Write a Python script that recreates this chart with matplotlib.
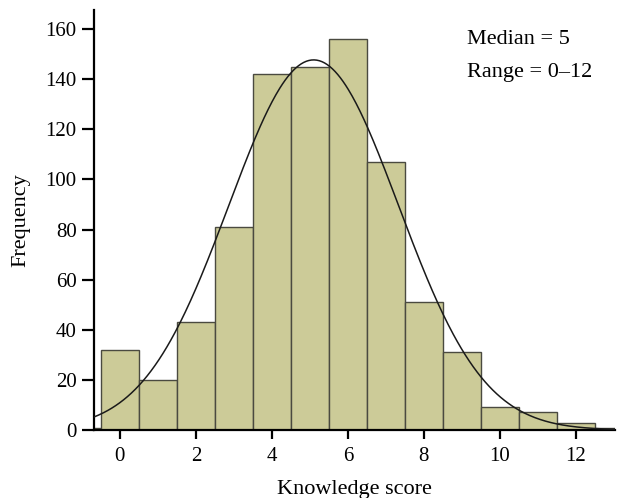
import numpy as np
import matplotlib
matplotlib.use("Agg")
import matplotlib.pyplot as plt

plt.rcParams['font.family'] = ['Liberation Serif', 'DejaVu Serif']

scores = [-1, 0, 1, 2, 3, 4, 5, 6, 7, 8, 9, 10, 11, 12, 13]
freqs = [1, 32, 20, 43, 81, 142, 145, 156, 107, 51, 31, 9, 7, 3, 1]
xticks = [0, 2, 4, 6, 8, 10, 12]
yticks = [0, 20, 40, 60, 80, 100, 120, 140, 160]
annot = ["Median = 5", "Range = 0\u201312"]

fig = plt.figure(figsize=(6.17, 4.98), dpi=100)
ax = fig.add_axes([0.1524, 0.1365, 0.8444, 0.8435])

ax.bar(scores, freqs, width=1.0, color='#cccb98', edgecolor='#4a4a40', linewidth=1.0, zorder=2)

# normal curve from the 0-12 data
s = np.array(scores[1:-1], dtype=float)
f = np.array(freqs[1:-1], dtype=float)
n = f.sum()
mu = (s * f).sum() / n
sd = np.sqrt((f * (s - mu) ** 2).sum() / n)
xs = np.linspace(-0.7, 13.1, 400)
ys = n / (sd * np.sqrt(2 * np.pi)) * np.exp(-(xs - mu) ** 2 / (2 * sd ** 2))
ax.plot(xs, ys, color='#1a1a1a', linewidth=1.1, zorder=3)

ax.set_xlim(-0.68, 13.03)
ax.set_ylim(0, 167.6)
ax.set_xticks(xticks)
ax.set_yticks(yticks)
for sp in ['top', 'right']:
    ax.spines[sp].set_visible(False)
for sp in ['left', 'bottom']:
    ax.spines[sp].set_linewidth(1.6)
ax.tick_params(direction='out', width=1.6, labelsize=15)
ax.tick_params(axis='y', length=8.5, pad=4)
ax.tick_params(axis='x', length=6.5, pad=6)
ax.set_xlabel("Knowledge score", fontsize=16, labelpad=10)
ax.set_ylabel("Frequency", fontsize=16, labelpad=11)

ax.text(0.715, 0.93, annot[0], transform=ax.transAxes, fontsize=16, va='center', ha='left')
ax.text(0.715, 0.85, annot[1], transform=ax.transAxes, fontsize=16, va='center', ha='left')

fig.savefig("out.png", dpi=100)
